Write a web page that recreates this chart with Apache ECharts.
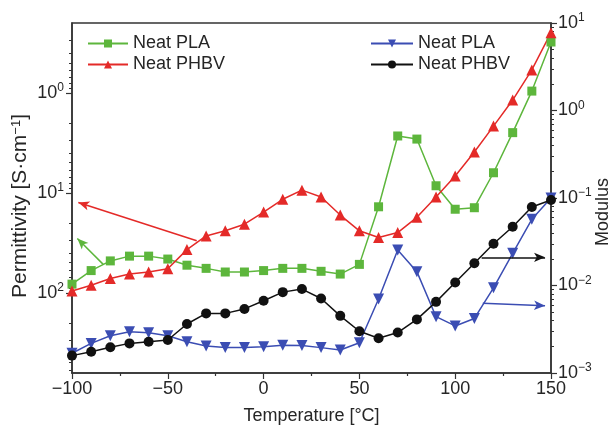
<!DOCTYPE html>
<html><head><meta charset="utf-8">
<script src="https://cdn.jsdelivr.net/npm/echarts@6/dist/echarts.min.js"></script>
<style>html,body{margin:0;padding:0;background:#fff}#c{width:611px;height:428px}</style>
</head><body><div id="c"></div>
<script>
// ---- data ----
const temps = [-100,-90,-80,-70,-60,-50,-40,-30,-20,-10,0,10,20,30,40,50,60,70,80,90,100,110,120,130,140,150];
const plaPermittivity  = [82,60,48,43,43,46,53,57,62,62,60,57,57,61,65,52,13.8,2.7,2.9,8.5,14.6,14.1,6.3,2.5,0.96,0.31];
const phbvPermittivity = [96,84,72,65,62,57.5,37,27,24,20.6,15.6,11.6,9.4,11,16.7,24,28,25,17.6,11,6.8,3.9,2.15,1.18,0.59,0.25];
const plaModulus  = [0.00168,0.00218,0.00267,0.00296,0.00289,0.00267,0.00228,0.00204,0.00195,0.00195,0.0020,0.00208,0.00206,0.00195,0.00183,0.00222,0.0070,0.0255,0.0144,0.0044,0.00345,0.0042,0.0094,0.0233,0.057,0.1];
const phbvModulus = [0.00158,0.00175,0.00197,0.00218,0.00228,0.00238,0.00363,0.0048,0.0048,0.0054,0.0067,0.0084,0.0091,0.0071,0.0045,0.0030,0.0025,0.0029,0.0041,0.0065,0.0108,0.018,0.030,0.047,0.079,0.095];
const xTickLabels = [-100,-50,0,50,100,150];
const leftTickValues = [1,10,100];
const rightTickValues = [0.001,0.01,0.1,1,10];
const legendLeft = ['Neat PLA','Neat PHBV'];
const legendRight = ['Neat PLA ','Neat PHBV '];
// annotation arrows [from, to] in data coordinates
const greenArrow = [[-83.7,52],[-97.2,28.6]];
const redArrow   = [[-34.9,30.2],[-96.7,12.5]];
const blackArrow = [[113.8,0.021],[146.9,0.021]];
const blueArrow  = [[114.4,0.00626],[146.9,0.00588]];

const FONT = '"Liberation Sans", Arial, sans-serif';
const TXT = '#262626';
const AX = '#333';
const C = {green:'#5db63c', red:'#e42a28', blue:'#3b4db3', black:'#111111'};

function minorValues(lo, hi){
  const out=[];
  for(let e=-4;e<=3;e++){ for(let m=2;m<=9;m++){ const v=m*Math.pow(10,e); if(v>lo&&v<hi) out.push(v);} }
  return out;
}
function expLabel(v){
  const e=Math.round(Math.log10(v));
  return '{b|10}{s|'+String(e).replace('-','\u2212')+'}';
}
const richLbl = {b:{fontSize:18,fontFamily:FONT,color:TXT,lineHeight:22}, s:{fontSize:12,fontFamily:FONT,color:TXT,verticalAlign:'top',lineHeight:12}};

const L_MIN=0.2, L_MAX=635, R_MIN=0.001, R_MAX=10;

function pairs(ys){ return temps.map((t,i)=>[t,ys[i]]); }
function arrowLine(a,color){
  return {silent:true, symbol:['none','arrow'], symbolSize:[7,11], animation:false,
    lineStyle:{color:color,width:1.5,type:'solid'}, label:{show:false}, emphasis:{disabled:true},
    data:[[{coord:a[0]},{coord:a[1]}]]};
}

const chart = echarts.init(document.getElementById('c'), null, {renderer:'canvas'});
chart.setOption({
  animation:false,
  backgroundColor:'#fff',
  grid:{left:72,right:60,top:23,bottom:55,show:true,borderColor:AX,borderWidth:1.5,backgroundColor:'transparent',
        containLabel:false,outerBoundsMode:'none'},
  legend:[
    {left:82,top:29,orient:'vertical',itemWidth:40,itemHeight:10,itemGap:2,data:legendLeft,
     textStyle:{fontSize:18,fontFamily:FONT,color:TXT,lineHeight:19},formatter:n=>n.trim()},
    {left:365,top:29,orient:'vertical',itemWidth:42,itemHeight:10,itemGap:2,data:legendRight,
     textStyle:{fontSize:18,fontFamily:FONT,color:TXT,lineHeight:19},formatter:n=>n.trim()}
  ],
  xAxis:{type:'value',min:-100,max:150,interval:50,
    name:'Temperature [°C]',nameLocation:'middle',nameGap:34,nameMoveOverlap:false,
    nameTextStyle:{fontSize:18,fontFamily:FONT,color:TXT},
    axisLine:{onZero:false,lineStyle:{color:AX,width:1.5}},
    axisTick:{length:6,lineStyle:{color:AX,width:1.2}},
    minorTick:{show:true,splitNumber:2,length:3,lineStyle:{color:AX,width:1.2}},
    splitLine:{show:false},
    axisLabel:{fontSize:18,fontFamily:FONT,color:TXT,margin:7,formatter:v=>String(v).replace('-','\u2212')}
  },
  yAxis:[
    {type:'log',logBase:10,min:L_MIN,max:L_MAX,inverse:true,position:'left',
     name:'Permittivity [S·cm{s|\u22121}]',nameLocation:'middle',nameGap:41,nameMoveOverlap:false,
     nameTextStyle:{fontSize:21,fontFamily:FONT,color:TXT,padding:[0,16,0,0],
       rich:{s:{fontSize:13,fontFamily:FONT,color:TXT,verticalAlign:'top',lineHeight:12}}},
     axisLine:{show:true,onZero:false,lineStyle:{color:AX,width:1.5}},
     axisTick:{show:true,length:6,customValues:leftTickValues,lineStyle:{color:AX,width:1.2}},
     axisLabel:{margin:8,customValues:leftTickValues,formatter:expLabel,rich:richLbl},
     splitLine:{show:false}},
    {type:'log',logBase:10,min:R_MIN,max:R_MAX,position:'right',
     name:'Modulus',nameLocation:'middle',nameGap:43,nameMoveOverlap:false,
     nameTextStyle:{fontSize:18,fontFamily:FONT,color:TXT,padding:[0,28,0,0]},
     axisLine:{show:true,onZero:false,lineStyle:{color:AX,width:1.5}},
     axisTick:{show:true,length:6,customValues:rightTickValues,lineStyle:{color:AX,width:1.2}},
     axisLabel:{margin:7,customValues:rightTickValues,formatter:expLabel,rich:richLbl},
     splitLine:{show:false}},
    {type:'log',logBase:10,min:L_MIN,max:L_MAX,inverse:true,position:'left',
     axisLine:{show:false,onZero:false},axisLabel:{show:false},splitLine:{show:false},
     axisTick:{show:true,length:3,customValues:minorValues(L_MIN,L_MAX),lineStyle:{color:AX,width:1}}},
    {type:'log',logBase:10,min:R_MIN,max:R_MAX,position:'right',
     axisLine:{show:false,onZero:false},axisLabel:{show:false},splitLine:{show:false},
     axisTick:{show:true,length:3,customValues:minorValues(R_MIN,R_MAX),lineStyle:{color:AX,width:1}}}
  ],
  series:[
    {name:'Neat PLA',type:'line',yAxisIndex:0,data:pairs(plaPermittivity),symbol:'rect',symbolSize:9,
     lineStyle:{color:C.green,width:1.5},itemStyle:{color:C.green},markLine:arrowLine(greenArrow,C.green)},
    {name:'Neat PHBV',type:'line',yAxisIndex:0,data:pairs(phbvPermittivity),symbol:'triangle',symbolSize:11,
     lineStyle:{color:C.red,width:1.5},itemStyle:{color:C.red},markLine:arrowLine(redArrow,C.red)},
    {name:'Neat PLA ',type:'line',yAxisIndex:1,data:pairs(plaModulus),symbol:'triangle',symbolRotate:180,symbolSize:11,
     lineStyle:{color:C.blue,width:1.5},itemStyle:{color:C.blue},markLine:arrowLine(blueArrow,C.blue)},
    {name:'Neat PHBV ',type:'line',yAxisIndex:1,data:pairs(phbvModulus),symbol:'circle',symbolSize:10,
     lineStyle:{color:C.black,width:1.5},itemStyle:{color:C.black},markLine:arrowLine(blackArrow,C.black)}
  ]
});
</script>
</body></html>
